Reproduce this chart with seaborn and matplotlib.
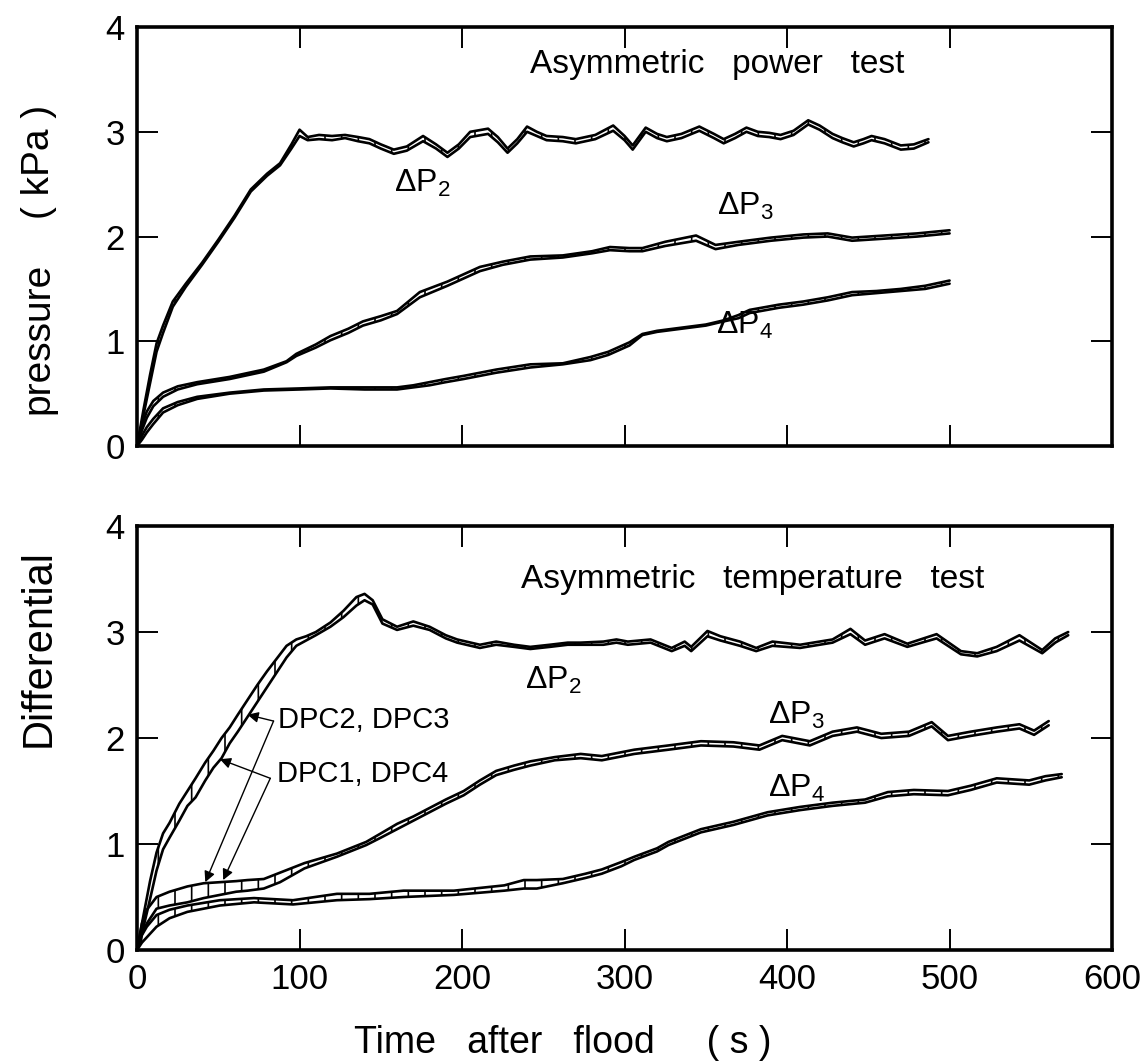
import numpy as np
import pandas as pd
import matplotlib
matplotlib.use("Agg")
import matplotlib.pyplot as plt
import seaborn as sns

# ---------------- data ----------------
# Top panel: Asymmetric power test
p2_t = [0, 4, 8, 12, 16, 22, 30, 40, 50, 60, 70, 80, 88, 95, 100, 105, 112, 120, 128, 136, 143, 150, 158, 166, 176,
        184, 191, 198, 205, 216, 222, 228, 234, 240, 246, 252, 262, 270, 282, 293, 300, 305, 313, 320, 326, 335, 346,
        355, 361, 368, 375, 382, 389, 396, 404, 413, 420, 428, 434, 441, 447, 452, 460, 470, 478, 487]
p2_a = [0, 0.35, 0.68, 0.98, 1.15, 1.38, 1.55, 1.75, 1.97, 2.2, 2.45, 2.6, 2.7, 2.88, 3.02, 2.95, 2.97, 2.96, 2.97,
        2.95, 2.93, 2.88, 2.83, 2.86, 2.96, 2.88, 2.8, 2.88, 3.0, 3.03, 2.95, 2.84, 2.93, 3.05, 3.0, 2.96, 2.95, 2.93,
        2.97, 3.06, 2.96, 2.87, 3.04, 2.98, 2.95, 2.98, 3.05, 2.98, 2.93, 2.98, 3.04, 3.0, 2.99, 2.97, 3.01, 3.11, 3.06,
        2.98, 2.94, 2.9, 2.93, 2.96, 2.93, 2.87, 2.88, 2.93]
p2_b = [0, 0.3, 0.6, 0.9, 1.08, 1.33, 1.52, 1.73, 1.95, 2.18, 2.43, 2.58, 2.68, 2.84, 2.96, 2.92, 2.93, 2.92, 2.94,
        2.91, 2.89, 2.84, 2.79, 2.82, 2.91, 2.84, 2.76, 2.84, 2.95, 2.98, 2.9, 2.8, 2.89, 3.0, 2.96, 2.92, 2.91, 2.89,
        2.93, 3.01, 2.92, 2.83, 3.0, 2.94, 2.91, 2.94, 3.01, 2.94, 2.89, 2.94, 3.0, 2.96, 2.95, 2.93, 2.97, 3.07, 3.02,
        2.94, 2.9, 2.86, 2.89, 2.92, 2.89, 2.83, 2.84, 2.9]

p3_t = [0, 3, 6, 10, 16, 25, 37, 57, 78, 92, 98, 110, 119, 130, 139, 150, 160, 174, 191, 211, 225, 242, 262, 280, 291,
        303, 311, 325, 344, 356, 370, 390, 410, 425, 440, 460, 480, 500]
p3_a = [0, 0.2, 0.33, 0.43, 0.51, 0.57, 0.61, 0.66, 0.73, 0.81, 0.88, 0.97, 1.05, 1.12, 1.19, 1.24, 1.29, 1.47, 1.57,
        1.71, 1.76, 1.81, 1.82, 1.86, 1.9, 1.89, 1.89, 1.95, 2.01, 1.92, 1.95, 1.99, 2.02, 2.03, 1.99, 2.01, 2.03, 2.06]
p3_b = [0, 0.15, 0.27, 0.38, 0.47, 0.54, 0.59, 0.64, 0.71, 0.8, 0.86, 0.94, 1.01, 1.08, 1.15, 1.2, 1.26, 1.42, 1.53,
        1.67, 1.73, 1.78, 1.8, 1.84, 1.87, 1.86, 1.86, 1.91, 1.96, 1.88, 1.92, 1.96, 1.99, 2.0, 1.96, 1.98, 2.0, 2.03]

p4_t = [0, 3, 6, 10, 16, 25, 37, 57, 78, 100, 119, 140, 160, 170, 180, 190, 201, 221, 242, 262, 279, 290, 303, 311,
        320, 335, 350, 361, 370, 377, 395, 410, 425, 440, 455, 470, 485, 500]
p4_a = [0, 0.1, 0.18, 0.26, 0.36, 0.42, 0.47, 0.51, 0.54, 0.55, 0.56, 0.56, 0.56, 0.58, 0.61, 0.64, 0.67, 0.73, 0.78,
        0.79, 0.85, 0.9, 0.99, 1.07, 1.1, 1.13, 1.16, 1.2, 1.25, 1.3, 1.35, 1.38, 1.42, 1.47, 1.48, 1.5, 1.53, 1.58]
p4_b = [0, 0.06, 0.13, 0.21, 0.32, 0.39, 0.45, 0.5, 0.53, 0.54, 0.55, 0.54, 0.54, 0.56, 0.58, 0.61, 0.64, 0.7, 0.75,
        0.78, 0.82, 0.87, 0.96, 1.06, 1.09, 1.12, 1.15, 1.19, 1.22, 1.27, 1.32, 1.35, 1.39, 1.44, 1.46, 1.48, 1.5, 1.55]

# Bottom panel: Asymmetric temperature test
t2_t = [0, 4, 8, 12, 16, 20, 26, 31, 36, 42, 47, 52, 57, 62, 68, 74, 80, 86, 92, 98, 104, 110, 119, 127, 135, 140, 145,
        151, 160, 170, 180, 190, 197, 211, 221, 232, 242, 254, 265, 273, 287, 295, 302, 316, 329, 337, 341, 351, 359,
        371, 381, 391, 408, 428, 439, 448, 460, 474, 492, 507, 517, 529, 543, 557, 565, 573]
t2_a = [0, 0.33, 0.65, 0.92, 1.1, 1.2, 1.38, 1.5, 1.62, 1.77, 1.88, 2.0, 2.1, 2.22, 2.36, 2.5, 2.63, 2.75, 2.87, 2.93,
        2.96, 3.0, 3.09, 3.2, 3.33, 3.36, 3.3, 3.12, 3.05, 3.1, 3.05, 2.97, 2.93, 2.88, 2.91, 2.88, 2.86, 2.88, 2.9, 2.9,
        2.91, 2.93, 2.91, 2.93, 2.85, 2.91, 2.86, 3.01, 2.96, 2.91, 2.85, 2.91, 2.88, 2.93, 3.03, 2.92, 2.98, 2.89, 2.98,
        2.82, 2.8, 2.86, 2.97, 2.83, 2.94, 3.0]
t2_b = [0, 0.22, 0.48, 0.75, 0.95, 1.06, 1.22, 1.36, 1.44, 1.6, 1.72, 1.81, 1.95, 2.06, 2.2, 2.34, 2.48, 2.62, 2.76,
        2.87, 2.92, 2.97, 3.05, 3.14, 3.25, 3.3, 3.26, 3.08, 3.02, 3.06, 3.02, 2.94, 2.9, 2.85, 2.88, 2.86, 2.84, 2.86,
        2.88, 2.88, 2.88, 2.9, 2.88, 2.9, 2.82, 2.87, 2.82, 2.96, 2.92, 2.87, 2.82, 2.87, 2.85, 2.9, 2.98, 2.88, 2.94,
        2.86, 2.94, 2.79, 2.77, 2.82, 2.92, 2.8, 2.9, 2.97]

t3_t = [0, 3, 6, 12, 20, 31, 41, 51, 61, 68, 78, 88, 103, 123, 141, 150, 160, 170, 180, 190, 201, 211, 221, 232, 242,
        257, 273, 286, 306, 327, 347, 367, 383, 397, 414, 428, 443, 458, 475, 489, 499, 513, 529, 543, 552, 561]
t3_a = [0, 0.25, 0.38, 0.5, 0.55, 0.6, 0.63, 0.64, 0.65, 0.66, 0.67, 0.73, 0.82, 0.91, 1.02, 1.1, 1.19, 1.26, 1.34,
        1.42, 1.5, 1.6, 1.69, 1.74, 1.78, 1.82, 1.85, 1.83, 1.89, 1.93, 1.97, 1.96, 1.93, 2.02, 1.97, 2.06, 2.1, 2.04,
        2.06, 2.15, 2.02, 2.06, 2.1, 2.13, 2.07, 2.16]
t3_b = [0, 0.15, 0.25, 0.39, 0.42, 0.45, 0.49, 0.52, 0.55, 0.56, 0.58, 0.64, 0.77, 0.88, 0.99, 1.06, 1.14, 1.22, 1.3,
        1.38, 1.46, 1.56, 1.65, 1.7, 1.74, 1.79, 1.81, 1.79, 1.85, 1.89, 1.93, 1.92, 1.89, 1.98, 1.93, 2.02, 2.06, 2.0,
        2.02, 2.11, 1.98, 2.02, 2.06, 2.09, 2.03, 2.12]

t4_t = [0, 3, 6, 12, 20, 31, 51, 72, 96, 123, 143, 164, 195, 226, 238, 246, 262, 276, 286, 298, 306, 320, 327,
        347, 367, 388, 408, 428, 448, 462, 478, 499, 513, 529, 549, 559, 569]
t4_a = [0, 0.14, 0.22, 0.33, 0.38, 0.42, 0.47, 0.49, 0.47, 0.53, 0.53, 0.56, 0.56, 0.61, 0.66, 0.66, 0.67, 0.72,
        0.76, 0.83, 0.88, 0.96, 1.02, 1.14, 1.21, 1.3, 1.35, 1.39, 1.42, 1.49, 1.51, 1.5, 1.55, 1.62, 1.6, 1.64, 1.66]
t4_b = [0, 0.07, 0.12, 0.22, 0.3, 0.36, 0.42, 0.45, 0.43, 0.47, 0.48, 0.5, 0.52, 0.56, 0.58, 0.58, 0.63, 0.68,
        0.72, 0.79, 0.85, 0.93, 0.99, 1.11, 1.18, 1.27, 1.32, 1.36, 1.39, 1.45, 1.47, 1.46, 1.51, 1.58, 1.56, 1.6, 1.63]

x_ticks = [0, 100, 200, 300, 400, 500, 600]
y_ticks = [0, 1, 2, 3, 4]

# ---------------- style ----------------
sns.set_theme(style="ticks")
FONT = ["Liberation Sans", "DejaVu Sans"]
plt.rcParams["font.family"] = FONT
plt.rcParams["text.color"] = "black"
plt.rcParams["axes.labelcolor"] = "black"
plt.rcParams["mathtext.fontset"] = "custom"
plt.rcParams["mathtext.rm"] = "Liberation Sans"
plt.rcParams["mathtext.it"] = "Liberation Sans"
plt.rcParams["hatch.linewidth"] = 1.2
plt.rcParams["hatch.color"] = "black"

fig = plt.figure(figsize=(11.44, 10.61), dpi=100)
ax_top = fig.add_axes([0.1198, 0.5796, 0.8523, 0.3949])
ax_bot = fig.add_axes([0.1198, 0.1046, 0.8523, 0.3996])


def band(ax, t, a, b):
    df = pd.DataFrame({"t": t, "a": a, "b": b})
    ax.fill_between(df["t"], df["a"], df["b"], facecolor="white", edgecolor="black",
                    hatch="|", linewidth=0, zorder=2)
    sns.lineplot(data=df, x="t", y="a", ax=ax, color="black", lw=1.9, sort=False,
                 estimator=None, zorder=3)
    sns.lineplot(data=df, x="t", y="b", ax=ax, color="black", lw=1.9, sort=False,
                 estimator=None, zorder=3)


band(ax_top, p2_t, p2_a, p2_b)
band(ax_top, p3_t, p3_a, p3_b)
band(ax_top, p4_t, p4_a, p4_b)
band(ax_bot, t2_t, t2_a, t2_b)
band(ax_bot, t3_t, t3_a, t3_b)
band(ax_bot, t4_t, t4_a, t4_b)

for ax in (ax_top, ax_bot):
    ax.set_xlim(0, 600)
    ax.set_ylim(0, 4)
    ax.set_xticks(x_ticks)
    ax.set_yticks(y_ticks)
    ax.set_xlabel("")
    ax.set_ylabel("")
    for s in ax.spines.values():
        s.set_visible(True)
        s.set_linewidth(2.6)
        s.set_color("black")
    ax.tick_params(direction="in", length=15, width=1.4, color="black",
                   top=True, right=True, labelsize=25, pad=9, labelcolor="black")
    ax.set_facecolor("white")

ax_top.tick_params(labelbottom=False)
ax_bot.set_xticklabels([str(v) for v in x_ticks])

# panel titles
ax_top.text(242, 3.64, "Asymmetric   power   test", fontsize=24, ha="left", va="center", color="black")
ax_bot.text(236, 3.50, "Asymmetric   temperature   test", fontsize=24, ha="left", va="center", color="black")

# curve labels
lab = dict(fontsize=23, ha="left", va="center", color="black")
ax_top.text(158, 2.51, r"$\Delta$P$_2$", **lab)
ax_top.text(357, 2.29, r"$\Delta$P$_3$", **lab)
ax_top.text(356, 1.15, r"$\Delta$P$_4$", **lab)
ax_bot.text(239, 2.54, r"$\Delta$P$_2$", **lab)
ax_bot.text(388, 2.21, r"$\Delta$P$_3$", **lab)
ax_bot.text(388, 1.52, r"$\Delta$P$_4$", **lab)

# DPC annotations
ax_bot.text(86.5, 2.17, "DPC2, DPC3", fontsize=21, ha="left", va="center", color="black")
ax_bot.text(86.0, 1.66, "DPC1, DPC4", fontsize=21, ha="left", va="center", color="black")
arrow = dict(arrowstyle="-|>", color="black", lw=1.0, mutation_scale=16,
             shrinkA=0, shrinkB=0)
ax_bot.annotate("", xy=(68, 2.22), xytext=(84, 2.16), arrowprops=arrow, zorder=5)
ax_bot.annotate("", xy=(42, 0.64), xytext=(84, 2.16), arrowprops=arrow, zorder=5)
ax_bot.annotate("", xy=(51, 1.80), xytext=(82, 1.62), arrowprops=arrow, zorder=5)
ax_bot.annotate("", xy=(53, 0.66), xytext=(82, 1.62), arrowprops=arrow, zorder=5)

# axis titles (split, widely spaced as in the original)
fig.text(0.034, 1 - 648 / 1061, "Differential", rotation=90, fontsize=30, ha="center", va="center", color="black")
fig.text(0.034, 1 - 338 / 1061, "pressure", rotation=90, fontsize=28, ha="center", va="center", color="black")
fig.text(0.034, 1 - 162 / 1061, "( kPa )", rotation=90, fontsize=28, ha="center", va="center", color="black")
fig.text(563 / 1144, 1 - 1043 / 1061, "Time   after   flood     ( s )", fontsize=27,
         ha="center", va="center", color="black")

fig.savefig("out.png", dpi=100, facecolor="white")
